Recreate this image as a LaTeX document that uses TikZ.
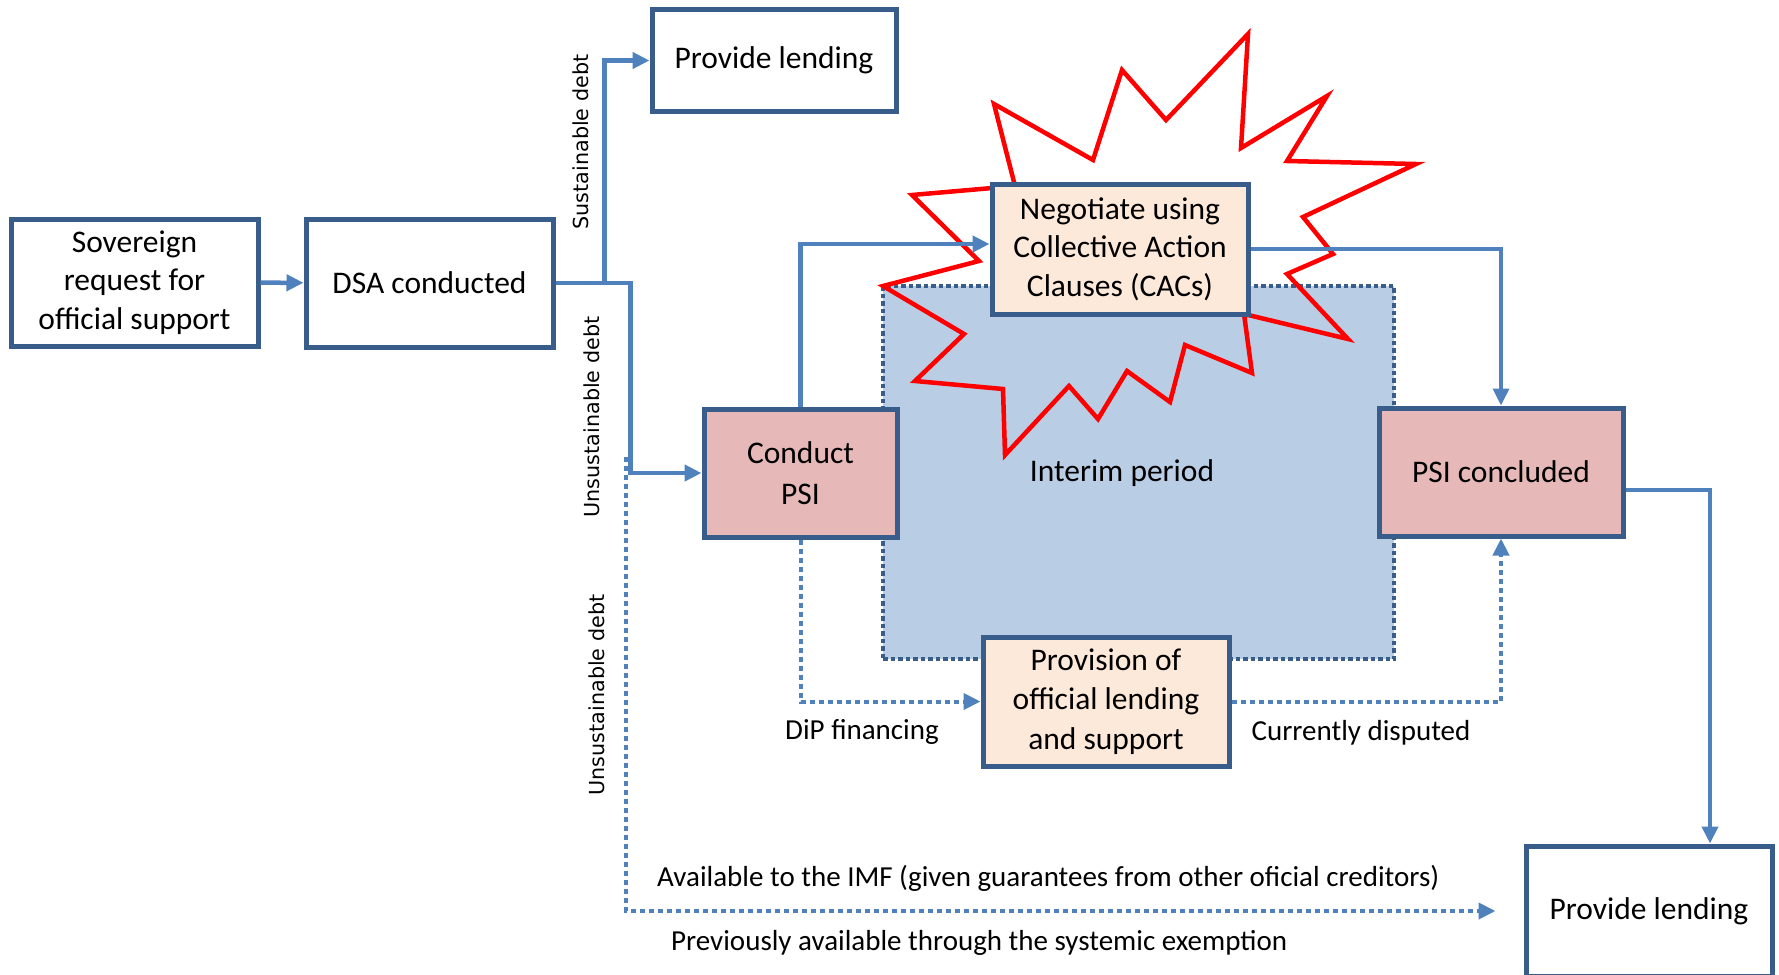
\documentclass[tikz,border=0pt]{standalone}
\usepackage{fontspec}
\setmainfont{Carlito}
\newfontfamily\sidefont{DejaVu Sans}
\usetikzlibrary{arrows.meta, calc, positioning}
\definecolor{boxblue}{HTML}{385D8A}
\definecolor{linkblue}{HTML}{4F81BD}
\definecolor{interimblue}{HTML}{B9CDE5}
\definecolor{psipink}{HTML}{E6B9B8}
\definecolor{peach}{HTML}{FDE9D9}

\tikzset{
  stagebox/.style={draw=boxblue, line width=5pt, fill=white, align=center, inner sep=0pt, font=\fontsize{31.5}{38.5}\selectfont},
  link/.style={draw=linkblue, line width=4.5pt},
  dotlink/.style={draw=linkblue, line width=4pt, dash pattern=on 5pt off 4pt},
  sidelabel/.style={rotate=90, font=\sidefont\fontsize{20.7}{24}\selectfont},
  notelabel/.style={font=\fontsize{29}{35}\selectfont},
}

\begin{document}
\begin{tikzpicture}[x=1pt, y=-1pt, >={Triangle[length=17pt, width=16pt]}]
	\useasboundingbox (0,0) rectangle (1779,974);
	% interim period
	\node[draw=boxblue, line width=3.5pt, dash pattern=on 4.5pt off 3pt, fill=interimblue, minimum width=511pt, minimum height=373pt, inner sep=0pt] (interim) at (1138.5,472.5) {};
	\node[font=\fontsize{31.5}{38}\selectfont] (interimtext) at (1122,473) {Interim period};
	% burst round the CAC negotiation
	\draw[red, line width=4.5pt, line join=miter] (1248,34) -- (1241,148) -- (1327,96) -- (1287,161) -- (1416,164) -- (1303,217) -- (1333,254) -- (1287,274) -- (1348,339) -- (1244,314) -- (1252,373) -- (1185,345) -- (1170,402) -- (1127,371) -- (1098,419) -- (1069,386) -- (1005,455) -- (1003,389) -- (915,381) -- (964,334) -- (883,286) -- (979,261) -- (912,195) -- (1015,186) -- (994,104) -- (1093,160) -- (1122,70) -- (1166,120) -- cycle;
	% boxes
	\node[stagebox, minimum width=247pt, minimum height=127pt] (sov) at (134.5,282.5) {Sovereign\\request for\\official support};
	\node[stagebox, minimum width=247pt, minimum height=128pt] (dsa) at (429.5,283) {DSA conducted};
	\node[stagebox, minimum width=244pt, minimum height=101pt] (lendtop) at (774,60.5) {Provide lending};
	\node[stagebox, fill=peach, minimum width=256pt, minimum height=130pt] (nego) at (1120,249) {Negotiate using\\Collective Action\\Clauses (CACs)};
	\node[stagebox, fill=psipink, minimum width=193pt, minimum height=128pt, font=\fontsize{31.5}{41}\selectfont] (conduct) at (800.5,473) {Conduct\\PSI};
	\node[stagebox, fill=psipink, minimum width=244pt, minimum height=128pt] (psidone) at (1501,472) {PSI concluded};
	\node[stagebox, fill=peach, minimum width=246pt, minimum height=129pt, font=\fontsize{31.5}{39.5}\selectfont] (provision) at (1106,701.5) {Provision of\\official lending\\and support};
	\node[stagebox, minimum width=246pt, minimum height=130pt] (lendbot) at (1649,911) {Provide lending};
	% solid links
	\draw[link,->] (sov) -- (dsa);
	\draw[link,->] (dsa.east) -- ++(49,0) |- (lendtop.west);
	\draw[link,->] (dsa.east) -- ++(75,0) |- (conduct.west);
	\draw[link,->] (conduct.north) |- ([yshift=5pt]nego.west);
	\draw[link, line width=3.5pt, ->] (nego.east) -| (psidone.north);
	\draw[link, line width=4pt, ->] ([yshift=-18pt]psidone.east) -| ([xshift=61pt]lendbot.north);
	% dotted links
	\coordinate (dotstart) at (626,457);
	\draw[dotlink,->] (dotstart) |- ([xshift=-28pt]lendbot.west);
	\draw[dotlink,->] (conduct.south) |- (provision.west);
	\draw[dotlink,->] (provision.east) -| (psidone.south);
	% labels
	\node[sidelabel] (sustlbl) at (581,142) {Sustainable debt};
	\node[sidelabel] (unsustlbl) at (592,417) {Unsustainable debt};
	\node[sidelabel] (unsustlow) at (597,695) {Unsustainable debt};
	\node[notelabel] (diplbl) at (862,732) {DiP financing};
	\node[notelabel] (disputedlbl) at (1361,733) {Currently disputed};
	\node[notelabel, anchor=west, inner sep=0pt] (imflbl) at (657,878) {Available to the IMF (given guarantees from other oficial creditors)};
	\node[notelabel, anchor=west, inner sep=0pt] (prevlbl) at (671,943) {Previously available through the systemic exemption};
\end{tikzpicture}
\end{document}
